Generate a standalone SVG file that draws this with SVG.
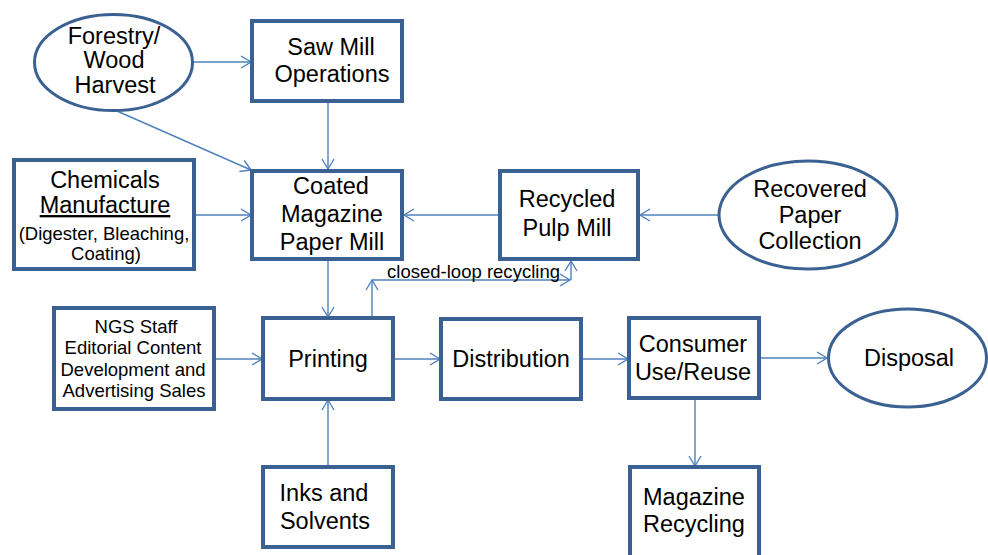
<svg xmlns="http://www.w3.org/2000/svg" width="988" height="555" viewBox="0 0 988 555">
<defs>
<style>
.box{fill:#fff;stroke:#3b6192;stroke-width:4}
.ell{fill:#fff;stroke:#3b6192;stroke-width:3}
.t{font-family:"Liberation Sans",Arial,sans-serif;font-size:23.5px;fill:#000;text-anchor:middle}
.s{font-size:18.5px}
.c{fill:none;stroke:#4f81bd;stroke-width:1.4}
.lbl{font-family:"Liberation Sans",Arial,sans-serif;font-size:17.5px;fill:#000}
</style>
<marker id="ah" markerUnits="userSpaceOnUse" markerWidth="14" markerHeight="14" refX="11" refY="7" orient="auto">
<path d="M1,1 L11,7 L1,13" fill="none" stroke="#4f81bd" stroke-width="1.4"/>
</marker>
</defs>
<rect width="988" height="555" fill="#fff"/>
<g id="connectors">
<line class="c" x1="193" y1="62" x2="251" y2="62" marker-end="url(#ah)"/>
<line class="c" x1="328" y1="101" x2="328" y2="169" marker-end="url(#ah)"/>
<line class="c" x1="117" y1="111" x2="251" y2="170" marker-end="url(#ah)"/>
<line class="c" x1="194" y1="215" x2="251" y2="215" marker-end="url(#ah)"/>
<line class="c" x1="500" y1="215" x2="404" y2="215" marker-end="url(#ah)"/>
<line class="c" x1="718" y1="215" x2="640" y2="215" marker-end="url(#ah)"/>
<line class="c" x1="328" y1="259" x2="328" y2="317" marker-end="url(#ah)"/>
<line class="c" x1="372" y1="318" x2="372" y2="280" marker-end="url(#ah)"/>
<line class="c" x1="372" y1="280" x2="570" y2="280" marker-end="url(#ah)"/>
<line class="c" x1="571" y1="280" x2="571" y2="261" marker-end="url(#ah)"/>
<line class="c" x1="214" y1="359" x2="262" y2="359" marker-end="url(#ah)"/>
<line class="c" x1="328" y1="467" x2="328" y2="400" marker-end="url(#ah)"/>
<line class="c" x1="393" y1="359" x2="440" y2="359" marker-end="url(#ah)"/>
<line class="c" x1="581" y1="359" x2="628" y2="359" marker-end="url(#ah)"/>
<line class="c" x1="759" y1="358" x2="827" y2="358" marker-end="url(#ah)"/>
<line class="c" x1="695" y1="398" x2="695" y2="466" marker-end="url(#ah)"/>
<text class="lbl" x="387" y="278" textLength="173" lengthAdjust="spacingAndGlyphs">closed-loop recycling</text>
</g>
<g id="forestry">
<ellipse class="ell" cx="113.5" cy="62.5" rx="79" ry="48"/>
<text class="t" x="114" y="44">Forestry/</text>
<text class="t" x="114" y="68">Wood</text>
<text class="t" x="115" y="93">Harvest</text>
</g>
<g id="sawmill">
<rect class="box" x="252" y="21" width="150" height="80"/>
<text class="t" x="331" y="55">Saw Mill</text>
<text class="t" x="332" y="82">Operations</text>
</g>
<g id="chemicals">
<rect class="box" x="14" y="160" width="180" height="109"/>
<text class="t" x="105" y="188">Chemicals</text>
<text class="t" x="105" y="213" text-decoration="underline">Manufacture</text>
<text class="t s" x="104" y="240">(Digester, Bleaching,</text>
<text class="t s" x="106" y="260">Coating)</text>
</g>
<g id="coated">
<rect class="box" x="252" y="171" width="150" height="88"/>
<text class="t" x="331" y="194">Coated</text>
<text class="t" x="332" y="222">Magazine</text>
<text class="t" x="332" y="250">Paper Mill</text>
</g>
<g id="recycledpulp">
<rect class="box" x="500" y="171" width="138" height="88"/>
<text class="t" x="567" y="207">Recycled</text>
<text class="t" x="567" y="236">Pulp Mill</text>
</g>
<g id="recovered">
<ellipse class="ell" cx="808" cy="215" rx="89" ry="54"/>
<text class="t" x="810" y="197">Recovered</text>
<text class="t" x="810" y="223">Paper</text>
<text class="t" x="810" y="249">Collection</text>
</g>
<g id="ngs">
<rect class="box" x="54" y="308" width="160" height="101"/>
<text class="t s" x="136" y="333">NGS Staff</text>
<text class="t s" x="133" y="354">Editorial Content</text>
<text class="t s" x="133" y="376">Development and</text>
<text class="t s" x="134" y="397">Advertising Sales</text>
</g>
<g id="printing">
<rect class="box" x="263" y="318" width="130" height="81"/>
<text class="t" x="328" y="367">Printing</text>
</g>
<g id="distribution">
<rect class="box" x="441" y="319" width="140" height="80"/>
<text class="t" x="511" y="367">Distribution</text>
</g>
<g id="consumer">
<rect class="box" x="629" y="318" width="130" height="80"/>
<text class="t" x="693" y="352">Consumer</text>
<text class="t" x="693" y="380">Use/Reuse</text>
</g>
<g id="disposal">
<ellipse class="ell" cx="907.5" cy="358" rx="79" ry="49"/>
<text class="t" x="909" y="366">Disposal</text>
</g>
<g id="inks">
<rect class="box" x="263" y="467" width="130" height="80"/>
<text class="t" x="324" y="501">Inks and</text>
<text class="t" x="325" y="529">Solvents</text>
</g>
<g id="magrecycling">
<rect class="box" x="630" y="467" width="129" height="95"/>
<text class="t" x="694" y="505">Magazine</text>
<text class="t" x="694" y="532">Recycling</text>
</g>
</svg>
